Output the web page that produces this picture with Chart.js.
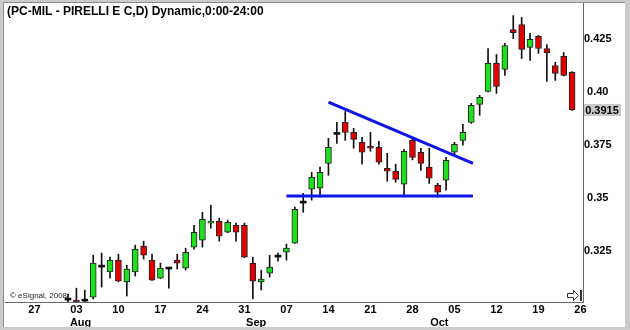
<!DOCTYPE html>
<html>
<head>
<meta charset="utf-8">
<script src="https://cdn.jsdelivr.net/npm/chart.js@4.4.1/dist/chart.umd.min.js"></script>
<style>
  html, body { margin: 0; padding: 0; }
  body { width: 630px; height: 330px; background: #cbcbcb; position: relative; overflow: hidden; }
  #frame { position: absolute; left: 3px; top: 2px; width: 621px; height: 325px; background: #fff; border-left: 1px solid #8c8c8c; border-top: 1px solid #8c8c8c; }
  #wrap { position: absolute; left: 5px; top: 3px; width: 618px; height: 327px; }
  #foot { position: absolute; left: 0; top: 327px; width: 630px; height: 3px; background: #cbcbcb; }
</style>
</head>
<body>
<div id="frame"></div>
<div id="wrap"><canvas id="chart"></canvas></div>
<div id="foot"></div>
<script>
const titleText = '(PC-MIL - PIRELLI E C,D) Dynamic,0:00-24:00';

// trading days, index 0 = 1 Aug 2008
const dates = [
  '08-01', '08-04', '08-05', '08-06', '08-07', '08-08', '08-11', '08-12', '08-13', '08-14', '08-15',
  '08-18', '08-19', '08-20', '08-21', '08-22', '08-25', '08-26', '08-27', '08-28', '08-29',
  '09-01', '09-02', '09-03', '09-04', '09-05', '09-08', '09-09', '09-10', '09-11', '09-12',
  '09-15', '09-16', '09-17', '09-18', '09-19', '09-22', '09-23', '09-24', '09-25', '09-26',
  '09-29', '09-30', '10-01', '10-02', '10-03', '10-06', '10-07', '10-08', '10-09', '10-10',
  '10-13', '10-14', '10-15', '10-16', '10-17', '10-20', '10-21', '10-22', '10-23', '10-24'
];

const opens = [
  0.3021, 0.3021, 0.3016, 0.3035, 0.3176, 0.3153, 0.3209, 0.3106, 0.3153, 0.3275, 0.3209,
  0.3124, 0.3167, 0.3209, 0.3171, 0.3270, 0.3303, 0.3383, 0.3392, 0.3340, 0.3373,
  0.3373, 0.3195, 0.3106, 0.3148, 0.3223, 0.3246, 0.3289, 0.3477, 0.3542, 0.3547,
  0.3664, 0.3800, 0.3857, 0.3810, 0.3763, 0.3744, 0.3739, 0.3641, 0.3627, 0.3566,
  0.3772, 0.3716, 0.3646, 0.3561, 0.3585, 0.3716, 0.3772, 0.3857, 0.3941, 0.4002,
  0.4134, 0.4106, 0.4293, 0.4317, 0.4209, 0.4261, 0.4204, 0.4124, 0.4167, 0.4092
];
const highs = [
  0.3049, 0.3077, 0.3068, 0.3232, 0.3242, 0.3223, 0.3237, 0.3185, 0.3279, 0.3298, 0.3237,
  0.3195, 0.3170, 0.3237, 0.3265, 0.3373, 0.3434, 0.3467, 0.3406, 0.3397, 0.3383,
  0.3383, 0.3223, 0.3162, 0.3232, 0.3242, 0.3284, 0.3458, 0.3523, 0.3622, 0.3646,
  0.3782, 0.3857, 0.3908, 0.3829, 0.3786, 0.3810, 0.3768, 0.3711, 0.3660, 0.3730,
  0.3786, 0.3735, 0.3735, 0.3570, 0.3692, 0.3763, 0.3847, 0.3946, 0.3984, 0.4204,
  0.4176, 0.4228, 0.4359, 0.4350, 0.4275, 0.4265, 0.4223, 0.4139, 0.4185, 0.4096
];
const lows = [
  0.3010, 0.3005, 0.3008, 0.3026, 0.3082, 0.3124, 0.3108, 0.3040, 0.3134, 0.3214, 0.3113,
  0.3122, 0.3077, 0.3167, 0.3162, 0.3261, 0.3270, 0.3359, 0.3298, 0.3338, 0.3298,
  0.3221, 0.3026, 0.3068, 0.3129, 0.3204, 0.3209, 0.3287, 0.3434, 0.3491, 0.3505,
  0.3608, 0.3758, 0.3772, 0.3735, 0.3660, 0.3721, 0.3660, 0.3580, 0.3575, 0.3509,
  0.3680, 0.3631, 0.3570, 0.3505, 0.3538, 0.3702, 0.3749, 0.3852, 0.3890, 0.4000,
  0.3993, 0.4077, 0.4251, 0.4157, 0.4148, 0.4181, 0.4049, 0.4054, 0.4075, 0.3913
];
const closes = [
  0.3021, 0.3012, 0.3016, 0.3195, 0.3176, 0.3209, 0.3110, 0.3167, 0.3261, 0.3232, 0.3115,
  0.3171, 0.3167, 0.3195, 0.3246, 0.3340, 0.3401, 0.3392, 0.3322, 0.3387, 0.3340,
  0.3223, 0.3110, 0.3120, 0.3176, 0.3223, 0.3265, 0.3448, 0.3477, 0.3599, 0.3622,
  0.3739, 0.3800, 0.3810, 0.3777, 0.3716, 0.3735, 0.3669, 0.3627, 0.3589, 0.3721,
  0.3692, 0.3664, 0.3594, 0.3528, 0.3678, 0.3754, 0.3810, 0.3937, 0.3974, 0.4134,
  0.4026, 0.4218, 0.4279, 0.4200, 0.4247, 0.4204, 0.4185, 0.4087, 0.4077, 0.3915
];

// hand-drawn trend lines (x in trading-day index)
const resistX = [31, 48.2];
const resistY = [0.3952, 0.3664];
const supportX = [26, 48.2];
const supportY = [0.3510, 0.3510];

// axis ticks
const weekTickIdx = [-4, 1, 6, 11, 16, 21, 26, 31, 36, 41, 46, 51, 56, 61];
const weekTickLabels = ['27', '03', '10', '17', '24', '31', '07', '14', '21', '28', '05', '12', '19', '26'];
const monthTickIdx = [1.5, 22.4, 44.2];
const monthTickLabels = ['Aug', 'Sep', 'Oct'];
const yTicks = [0.325, 0.35, 0.375, 0.40, 0.425];
const yTickLabels = ['0.325', '0.35', '0.375', '0.40', '0.425'];

const xMin = -7.5, xMax = 61.3;
const yMin = 0.3012, yMax = 0.4418;

const upColor = '#1ee01e';
const downColor = '#e00000';
const lineBlue = '#0f14e8';
const axisFont = { family: 'Liberation Sans', size: 11, weight: 'bold' };

function candleColor(i) {
  if (closes[i] > opens[i]) return upColor;
  if (closes[i] < opens[i]) return downColor;
  return '#111';
}

function noPad(s) {
  s.paddingTop = 0;
  s.paddingBottom = 0;
  s.paddingLeft = 0;
  s.paddingRight = 0;
}

const decor = {
  id: 'decor',
  afterDraw(chart) {
    const ctx = chart.ctx;
    const a = chart.chartArea;
    const ys = chart.scales.y;
    ctx.save();
    ctx.fillStyle = '#000';
    ctx.textBaseline = 'middle';
    ctx.font = 'bold 12px "Liberation Sans"';
    ctx.fillText(titleText, a.left + 2, a.top + 9);

    ctx.font = '8px "Liberation Sans"';
    ctx.fillStyle = '#222';
    ctx.fillText('\u00a9 eSignal, 2008', a.left + 5, a.bottom - 6);

    // last price marker
    const last = closes[closes.length - 1];
    const py = ys.getPixelForValue(last);
    ctx.fillStyle = '#c9c9c9';
    ctx.fillRect(ys.left + 1, py - 6, 37, 12);
    ctx.fillStyle = '#000';
    ctx.font = 'bold 11px "Liberation Sans"';
    ctx.textAlign = 'center';
    ctx.fillText(last.toFixed(4), ys.left + 19, py + 1);

    // scroll arrow icon
    const bx = a.right - 16, by = a.bottom - 12;
    ctx.strokeStyle = '#333';
    ctx.lineWidth = 1;
    ctx.beginPath();
    ctx.moveTo(bx + 0.5, by + 3.5);
    ctx.lineTo(bx + 6.5, by + 3.5);
    ctx.lineTo(bx + 6.5, by + 0.5);
    ctx.lineTo(bx + 11.5, by + 5.5);
    ctx.lineTo(bx + 6.5, by + 10.5);
    ctx.lineTo(bx + 6.5, by + 7.5);
    ctx.lineTo(bx + 0.5, by + 7.5);
    ctx.closePath();
    ctx.stroke();
    ctx.fillStyle = '#333';
    ctx.fillRect(bx + 13, by, 2, 11);
    ctx.restore();
  }
};

const bodies = dates.map((d, i) => ({ x: i, y: [opens[i], closes[i]] }));
const wicks = dates.map((d, i) => ({ x: i, y: [lows[i], highs[i]] }));

new Chart(document.getElementById('chart'), {
  type: 'bar',
  data: {
    datasets: [
      {
        type: 'line',
        data: resistX.map((x, i) => ({ x: x, y: resistY[i] })),
        borderColor: lineBlue,
        borderWidth: 3,
        pointRadius: 0,
        order: -1
      },
      {
        type: 'line',
        data: supportX.map((x, i) => ({ x: x, y: supportY[i] })),
        borderColor: lineBlue,
        borderWidth: 3,
        pointRadius: 0,
        order: -1
      },
      {
        data: bodies,
        grouped: false,
        barThickness: 6,
        minBarLength: 2,
        backgroundColor: ctx => candleColor(ctx.dataIndex),
        borderColor: '#222',
        borderWidth: ctx => (closes[ctx.dataIndex] === opens[ctx.dataIndex] ? 0 : 1),
        borderSkipped: false,
        order: 0
      },
      {
        data: wicks,
        grouped: false,
        barThickness: 1,
        backgroundColor: '#111',
        borderWidth: 0,
        order: 1
      }
    ]
  },
  options: {
    responsive: true,
    maintainAspectRatio: false,
    animation: false,
    layout: { padding: 0 },
    plugins: {
      legend: { display: false },
      tooltip: { enabled: false }
    },
    scales: {
      x: {
        type: 'linear',
        position: 'bottom',
        min: xMin,
        max: xMax,
        offset: false,
        weight: 0,
        grid: { display: false, drawTicks: false },
        border: { color: '#6a6a6a' },
        afterBuildTicks: s => { s.ticks = weekTickIdx.map(v => ({ value: v })); },
        afterFit: s => { s.height = 13; noPad(s); },
        ticks: {
          autoSkip: false,
          maxRotation: 0,
          padding: 1,
          color: '#000',
          font: axisFont,
          callback: (v, i) => weekTickLabels[i]
        }
      },
      x2: {
        type: 'linear',
        position: 'bottom',
        min: xMin,
        max: xMax,
        offset: false,
        weight: 1,
        grid: { display: false, drawTicks: false },
        border: { display: false },
        afterBuildTicks: s => { s.ticks = monthTickIdx.map(v => ({ value: v })); },
        afterFit: s => { s.height = 15; noPad(s); },
        ticks: {
          autoSkip: false,
          maxRotation: 0,
          padding: 1,
          color: '#000',
          font: axisFont,
          callback: (v, i) => monthTickLabels[i]
        }
      },
      y: {
        position: 'right',
        min: yMin,
        max: yMax,
        grid: { display: false, drawTicks: false },
        border: { color: '#6a6a6a' },
        afterBuildTicks: s => { s.ticks = yTicks.map(v => ({ value: v })); },
        afterFit: s => { s.width = 40; noPad(s); },
        ticks: {
          crossAlign: 'center',
          padding: 1,
          color: '#000',
          font: axisFont,
          callback: (v, i) => yTickLabels[i]
        }
      }
    }
  },
  plugins: [decor]
});
</script>
</body>
</html>
